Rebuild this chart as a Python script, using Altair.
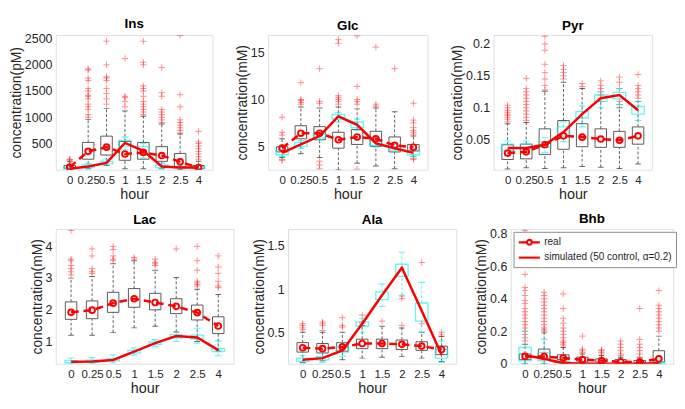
import json
import altair as alt
import pandas as pd

HOURS = ["0", "0.25", "0.5", "1", "1.5", "2", "2.5", "4"]
SERIES = ["real", "simulated (50 control, \u03b1=0.2)"]

# ---- Ins ----
INS_REAL = [50, 350, 430, 300, 330, 270, 150, 40]
INS_Q1 = [30, 200, 280, 180, 200, 160, 50, 20]
INS_Q3 = [80, 520, 640, 540, 520, 440, 310, 80]
INS_LO = [5, 20, 80, 20, 20, 20, 5, 5]
INS_HI = [150, 960, 1170, 1120, 1020, 870, 680, 160]
INS_OUT = [[170, 190, 200],
           [1000, 1050, 1150, 1200, 1250, 1350, 1400, 1420, 1500, 1550, 1700, 1750, 1900, 1920],
           [1250, 1350, 1450, 1550, 1700, 1750, 1770, 2000, 2450],
           [1200, 1300, 1380, 1400, 2120],
           [1050, 1100, 1150, 1200, 1250, 1300, 1400, 1500, 1550, 1600, 2000, 2050, 2450],
           [900, 950, 1000, 1050, 1100, 1150, 1400, 1470, 1950],
           [700, 750, 800, 850, 900, 950, 1200, 1430, 2560],
           [200, 250, 300, 350, 400, 450, 500, 530, 730]]
INS_SIM = [20, 60, 130, 510, 360, 60, 40, 40]
INS_SIM_Q1 = [10, 40, 110, 450, 300, 40, 30, 25]
INS_SIM_Q3 = [40, 90, 160, 560, 440, 90, 60, 60]
INS_SIM_LO = [0, 20, 90, 380, 220, 20, 15, 10]
INS_SIM_HI = [60, 120, 200, 620, 500, 120, 80, 90]

# ---- Glc ----
GLC_REAL = [4.8, 6.4, 6.4, 5.7, 6.0, 5.8, 5.1, 4.9]
GLC_Q1 = [4.4, 5.8, 5.7, 4.8, 5.2, 5.0, 4.4, 4.5]
GLC_Q3 = [4.95, 7.2, 7.1, 6.5, 6.8, 6.6, 6.0, 5.2]
GLC_LO = [3.8, 4.2, 3.8, 2.5, 3.2, 2.9, 2.6, 3.9]
GLC_HI = [5.8, 9.2, 9.1, 9.2, 9.0, 9.1, 8.7, 6.1]
GLC_OUT = [[3.5, 3.6, 6.2, 6.5, 8.1], [9.5, 9.7, 9.9, 10.0, 11.8],
           [2.6, 3.0, 3.4, 9.6, 9.8, 13.3], [9.5, 9.8, 10.0, 10.2, 10.4, 16.0, 16.4],
           [2.55, 9.5, 9.8, 10.0, 11.4, 16.8], [9.3, 9.5, 15.6], [13.3],
           [3.6, 3.7, 6.3, 6.5, 6.7, 7.0, 7.5, 7.8, 9.6]]
GLC_SIM = [4.3, 5.2, 6.1, 8.2, 7.3, 5.3, 4.8, 4.3]
GLC_SIM_Q1 = [4.1, 5.0, 5.9, 7.9, 7.0, 5.1, 4.6, 4.1]
GLC_SIM_Q3 = [4.5, 5.4, 6.3, 8.4, 7.6, 5.6, 5.0, 4.6]
GLC_SIM_LO = [3.9, 4.8, 5.7, 7.6, 6.7, 4.9, 4.4, 3.9]
GLC_SIM_HI = [4.7, 5.6, 6.5, 8.6, 7.9, 5.9, 5.2, 4.8]

# ---- Pyr ----
PYR_REAL = [0.029, 0.031, 0.042, 0.056, 0.054, 0.051, 0.049, 0.056]
PYR_Q1 = [0.019, 0.020, 0.027, 0.035, 0.039, 0.038, 0.038, 0.043]
PYR_Q3 = [0.042, 0.043, 0.067, 0.080, 0.075, 0.067, 0.063, 0.070]
PYR_LO = [0.004, 0.006, 0.005, 0.006, 0.008, 0.007, 0.005, 0.012]
PYR_HI = [0.075, 0.077, 0.126, 0.140, 0.130, 0.110, 0.100, 0.110]
PYR_OUT = [[0.078, 0.082, 0.085, 0.088, 0.090, 0.093, 0.096, 0.100, 0.104],
           [0.080, 0.085, 0.090, 0.095, 0.100, 0.105, 0.110, 0.115, 0.120, 0.125, 0.130, 0.146],
           [0.128, 0.135, 0.145, 0.155, 0.168, 0.190, 0.200, 0.212],
           [0.145, 0.150, 0.155, 0.160, 0.166], [0.133, 0.138],
           [0.115, 0.120, 0.125, 0.130, 0.135, 0.142], [0.105, 0.110, 0.130, 0.140, 0.148],
           [0.115, 0.120, 0.125, 0.130, 0.135, 0.152]]
PYR_SIM = [0.037, 0.037, 0.042, 0.062, 0.090, 0.115, 0.120, 0.096]
PYR_SIM_Q1 = [0.033, 0.034, 0.038, 0.056, 0.084, 0.110, 0.114, 0.090]
PYR_SIM_Q3 = [0.043, 0.043, 0.047, 0.070, 0.094, 0.120, 0.124, 0.102]
PYR_SIM_LO = [0.025, 0.027, 0.030, 0.047, 0.070, 0.100, 0.105, 0.080]
PYR_SIM_HI = [0.048, 0.048, 0.053, 0.078, 0.103, 0.125, 0.130, 0.110]

# ---- Lac ----
LAC_REAL = [1.92, 1.99, 2.21, 2.35, 2.23, 2.11, 1.91, 1.49]
LAC_Q1 = [1.70, 1.72, 1.92, 2.08, 2.00, 1.88, 1.68, 1.25]
LAC_Q3 = [2.25, 2.28, 2.55, 2.67, 2.52, 2.35, 2.15, 1.78]
LAC_LO = [1.20, 1.20, 1.28, 1.43, 1.48, 1.30, 1.00, 0.70]
LAC_HI = [3.00, 3.05, 3.45, 3.55, 3.25, 3.02, 2.65, 2.48]
LAC_OUT = [[3.1, 3.2, 3.3, 3.4, 3.55, 3.6, 4.5], [3.15, 3.2, 3.3, 3.7, 3.92],
           [3.55, 3.6, 3.7, 3.9, 4.0], [3.6, 3.65], [3.4, 3.45, 3.5, 3.6], [3.92],
           [2.75, 2.8, 2.85, 2.9, 3.25, 3.55, 4.0], [2.7, 2.75, 2.9, 3.15, 3.35, 3.7]]
LAC_SIM = [0.36, 0.37, 0.42, 0.68, 0.95, 1.17, 1.13, 0.73]
LAC_SIM_Q1 = [0.33, 0.34, 0.39, 0.64, 0.91, 1.12, 1.08, 0.68]
LAC_SIM_Q3 = [0.40, 0.41, 0.47, 0.72, 0.99, 1.22, 1.20, 0.78]
LAC_SIM_LO = [0.30, 0.31, 0.33, 0.57, 0.84, 1.00, 0.95, 0.55]
LAC_SIM_HI = [0.48, 0.49, 0.58, 0.80, 1.06, 1.30, 1.42, 1.02]

# ---- Ala ----
ALA_REAL = [0.32, 0.31, 0.33, 0.37, 0.37, 0.36, 0.34, 0.30]
ALA_Q1 = [0.27, 0.26, 0.28, 0.31, 0.31, 0.30, 0.29, 0.24]
ALA_Q3 = [0.38, 0.37, 0.38, 0.42, 0.42, 0.41, 0.39, 0.34]
ALA_LO = [0.15, 0.17, 0.18, 0.20, 0.21, 0.22, 0.20, 0.16]
ALA_HI = [0.50, 0.50, 0.50, 0.58, 0.57, 0.55, 0.50, 0.45]
ALA_OUT = [[0.53, 0.55, 0.58, 0.60], [0.52, 0.58, 0.60, 0.62], [0.56, 0.58, 0.67],
           [0.60, 0.62, 0.70], [0.63], [0.58, 0.89, 0.92], [0.60, 1.31], [0.47, 0.50]]
ALA_SIM = [0.18, 0.20, 0.29, 0.60, 0.93, 1.25, 0.75, 0.24]
ALA_SIM_Q1 = [0.16, 0.18, 0.27, 0.57, 0.88, 1.15, 0.63, 0.20]
ALA_SIM_Q3 = [0.20, 0.22, 0.33, 0.62, 0.97, 1.29, 0.84, 0.30]
ALA_SIM_LO = [0.14, 0.15, 0.22, 0.50, 0.80, 0.93, 0.50, 0.15]
ALA_SIM_HI = [0.23, 0.26, 0.38, 0.66, 1.06, 1.43, 1.08, 0.40]

# ---- Bhb ----
BHB_REAL = [0.045, 0.045, 0.035, 0.025, 0.02, 0.012, 0.01, 0.03]
BHB_Q1 = [0.025, 0.03, 0.025, 0.015, 0.01, 0.005, 0.005, 0.01]
BHB_Q3 = [0.06, 0.09, 0.055, 0.04, 0.03, 0.025, 0.02, 0.08]
BHB_LO = [0.0, 0.0, 0.0, 0.0, 0.0, 0.0, 0.0, 0.0]
BHB_HI = [0.12, 0.19, 0.10, 0.06, 0.05, 0.04, 0.035, 0.17]
BHB_OUT = [[0.14, 0.16, 0.18, 0.2, 0.22, 0.24, 0.26, 0.28, 0.3, 0.32, 0.34, 0.37, 0.39,
            0.42, 0.45, 0.47, 0.55, 0.62, 0.65, 0.82],
           [0.2, 0.21, 0.22, 0.24, 0.26, 0.28, 0.3, 0.32, 0.34, 0.36, 0.38, 0.4, 0.42, 0.44],
           [0.11, 0.12, 0.13, 0.14, 0.16, 0.18, 0.2, 0.22, 0.25, 0.28, 0.34, 0.43],
           [0.07, 0.08, 0.09, 0.17], [0.06, 0.07, 0.08, 0.085],
           [0.05, 0.06, 0.08, 0.1, 0.12, 0.14], [0.04, 0.06, 0.08, 0.1, 0.12, 0.15, 0.34],
           [0.2, 0.22, 0.24, 0.26, 0.28, 0.3, 0.32, 0.34, 0.36, 0.45]]
BHB_SIM = [0.05, 0.03, 0.006, 0.001, 0.0, 0.0, 0.0, 0.005]
BHB_SIM_Q1 = [0.02, 0.02, 0.002, 0.0, 0.0, 0.0, 0.0, 0.0]
BHB_SIM_Q3 = [0.10, 0.07, 0.015, 0.005, 0.003, 0.002, 0.002, 0.012]
BHB_SIM_LO = [0.0, 0.0, 0.0, 0.0, 0.0, 0.0, 0.0, 0.0]
BHB_SIM_HI = [0.2, 0.15, 0.04, 0.01, 0.008, 0.005, 0.005, 0.03]

RED = "#ff0000"
CYAN = "#00f0f0"
FONT = "Liberation Sans"
PLUS = "M-1,0H1M0,-1V1"
PATH_REAL = "M-1,0H0.4M1.6,0H3M1.46,0A0.46,0.46 0 1 1 0.54,0A0.46,0.46 0 1 1 1.46,0"
PATH_SIM = "M-1,0H3"


def panel(name, unit, dom, ticks, real, q1, q3, lo, hi, out, sim, sq1, sq3, slo, shi,
          width, height, legend=False, smooth=False):
    idx = list(range(1, len(HOURS) + 1))
    box = pd.DataFrame(dict(idx=idx, real=real, q1=q1, q3=q3, lo=lo, hi=hi, sim=sim,
                            sq1=sq1, sq3=sq3, slo=slo, shi=shi))
    outs = pd.DataFrame([(i + 1, v) for i, vals in enumerate(out) for v in vals],
                        columns=["idx", "v"])
    label_expr = json.dumps(HOURS) + "[datum.value - 1]"
    xs = alt.Scale(domain=[0.5, len(HOURS) + 0.5], nice=False, zero=False)
    xa = alt.Axis(values=idx, labelExpr=label_expr, title="hour", labelOverlap=False,
                  labelFlush=False, ticks=False, domain=False, grid=False,
                  labelPadding=5, titlePadding=2, labelFontSize=12, titleFontSize=15,
                  labelColor="#262626", titleColor="#262626", labelFont=FONT,
                  titleFont=FONT, titleFontWeight="normal")
    ys = alt.Scale(domain=dom, nice=False, zero=False)
    ya = alt.Axis(values=ticks, format="~r", title=f"concentration({unit})", ticks=False,
                  domain=False, grid=False, labelPadding=4, titlePadding=1,
                  labelFontSize=13, titleFontSize=14.5, labelColor="#262626",
                  titleColor="#262626", labelFont=FONT, titleFont=FONT,
                  titleFontWeight="normal")
    X = alt.X("idx:Q", scale=xs, axis=xa)

    def Y(f):
        return alt.Y(f + ":Q", scale=ys, axis=ya)

    b = alt.Chart(box)
    layers = [
        alt.Chart(outs).mark_point(shape=PLUS, filled=False, size=44, strokeWidth=1,
                                   color=RED, opacity=0.45, clip=True)
        .encode(x=X, y=Y("v")),
        # black boxes
        b.mark_rule(color="#333333", strokeWidth=0.8, strokeDash=[3, 2], clip=True)
        .encode(x=X, y=Y("q3"), y2="hi"),
        b.mark_rule(color="#333333", strokeWidth=0.8, strokeDash=[3, 2], clip=True)
        .encode(x=X, y=Y("lo"), y2="q1"),
        b.mark_tick(orient="horizontal", size=6, thickness=1, color="#333333", clip=True)
        .encode(x=X, y=Y("hi")),
        b.mark_tick(orient="horizontal", size=6, thickness=1, color="#333333", clip=True)
        .encode(x=X, y=Y("lo")),
        b.mark_bar(size=12, fillOpacity=0, stroke="#555555", strokeWidth=1, clip=True)
        .encode(x=X, y=Y("q1"), y2="q3"),
        # cyan (simulated) boxes
        b.mark_rule(color=CYAN, strokeWidth=1, strokeDash=[3, 2], opacity=0.6, clip=True)
        .encode(x=X, y=Y("sq3"), y2="shi"),
        b.mark_rule(color=CYAN, strokeWidth=1, strokeDash=[3, 2], opacity=0.6, clip=True)
        .encode(x=X, y=Y("slo"), y2="sq1"),
        b.mark_tick(orient="horizontal", size=7, thickness=1.2, color=CYAN, opacity=0.6,
                    clip=True).encode(x=X, y=Y("shi")),
        b.mark_tick(orient="horizontal", size=7, thickness=1.2, color=CYAN, opacity=0.6,
                    clip=True).encode(x=X, y=Y("slo")),
        b.mark_bar(size=13, fillOpacity=0, stroke=CYAN, strokeOpacity=0.6, strokeWidth=1.4,
                   clip=True).encode(x=X, y=Y("sq1"), y2="sq3"),
        # red lines
        b.mark_line(color=RED, strokeWidth=2.6, interpolate="monotone" if smooth else "linear",
                    clip=True).encode(x=X, y=Y("sim")),
        b.mark_line(color=RED, strokeWidth=2.6, strokeDash=[8, 5], clip=True)
        .encode(x=X, y=Y("real")),
        b.mark_point(shape="circle", filled=False, size=36, strokeWidth=2, color=RED,
                     opacity=1, clip=True).encode(x=X, y=Y("real")),
    ]
    if legend:
        leg = pd.DataFrame({"series": SERIES, "idx": [1, 1], "v": [real[0], sim[0]]})
        layers.append(
            alt.Chart(leg).mark_point(opacity=0, filled=False, strokeWidth=2.2, color=RED)
            .encode(x=X, y=Y("v"),
                    shape=alt.Shape("series:N",
                                    scale=alt.Scale(domain=SERIES, range=[PATH_REAL, PATH_SIM]),
                                    legend=alt.Legend(title=None, orient="top-left",
                                                      symbolOpacity=1, symbolSize=121,
                                                      symbolStrokeWidth=2.2,
                                                      symbolStrokeColor=RED,
                                                      labelFontSize=10.5, labelFont=FONT,
                                                      labelColor="#262626",
                                                      labelOffset=14, fillColor="white",
                                                      strokeColor="#888888", padding=4,
                                                      rowPadding=2, offset=3,
                                                      labelLimit=300)))
        )
    return alt.layer(*layers).properties(
        width=width, height=height,
        title=alt.TitleParams(name, fontSize=14, fontWeight="bold", font=FONT, offset=2,
                              frame="group", anchor="middle", color="#000000"),
    )


H = 141
ins = panel("Ins", "pM", [0, 2570], [500, 1000, 1500, 2000, 2500], INS_REAL, INS_Q1, INS_Q3,
            INS_LO, INS_HI, INS_OUT, INS_SIM, INS_SIM_Q1, INS_SIM_Q3, INS_SIM_LO, INS_SIM_HI,
            164, H)
glc = panel("Glc", "mM", [2.5, 16.9], [5, 10, 15], GLC_REAL, GLC_Q1, GLC_Q3, GLC_LO, GLC_HI,
            GLC_OUT, GLC_SIM, GLC_SIM_Q1, GLC_SIM_Q3, GLC_SIM_LO, GLC_SIM_HI, 167, H)
pyr = panel("Pyr", "mM", [0.003, 0.214], [0.05, 0.1, 0.15, 0.2], PYR_REAL, PYR_Q1, PYR_Q3,
            PYR_LO, PYR_HI, PYR_OUT, PYR_SIM, PYR_SIM_Q1, PYR_SIM_Q3, PYR_SIM_LO, PYR_SIM_HI,
            166, H)
lac = panel("Lac", "mM", [0.3, 4.55], [1, 2, 3, 4], LAC_REAL, LAC_Q1, LAC_Q3, LAC_LO, LAC_HI,
            LAC_OUT, LAC_SIM, LAC_SIM_Q1, LAC_SIM_Q3, LAC_SIM_LO, LAC_SIM_HI, 186, H)
ala = panel("Ala", "mM", [0.135, 1.70], [0.5, 1, 1.5], ALA_REAL, ALA_Q1, ALA_Q3, ALA_LO,
            ALA_HI, ALA_OUT, ALA_SIM, ALA_SIM_Q1, ALA_SIM_Q3, ALA_SIM_LO, ALA_SIM_HI, 176, H)
bhb = panel("Bhb", "mM", [0, 0.83], [0, 0.2, 0.4, 0.6, 0.8], BHB_REAL, BHB_Q1, BHB_Q3, BHB_LO,
            BHB_HI, BHB_OUT, BHB_SIM, BHB_SIM_Q1, BHB_SIM_Q3, BHB_SIM_LO, BHB_SIM_HI, 170, H,
            legend=True, smooth=True)

top = alt.hconcat(ins, glc, pyr, spacing=22).resolve_scale(shape="independent")
bottom = alt.hconcat(lac, ala, bhb, spacing=17).resolve_scale(shape="independent")

chart = (
    alt.vconcat(top, bottom, spacing=10)
    .resolve_scale(shape="independent")
    .properties(padding={"left": 0, "top": 0, "right": 0, "bottom": 0})
    .configure_view(stroke="#999999", strokeWidth=1)
    .configure(background="white")
)

chart.save("out.html", embed_options={"renderer": "svg", "actions": False})
